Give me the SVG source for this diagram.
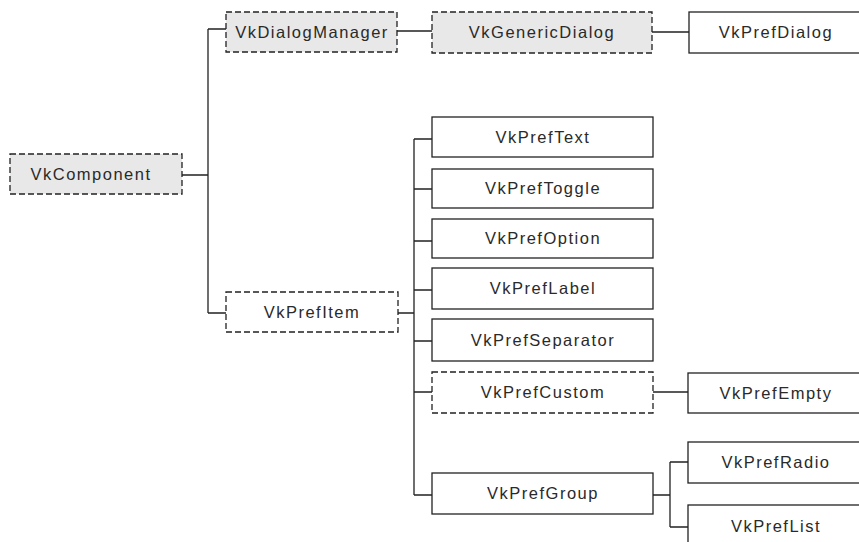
<svg xmlns="http://www.w3.org/2000/svg" width="859" height="542" viewBox="0 0 859 542">
<style>
.box{fill:#ffffff;stroke:#222;stroke-width:1.3}
.abs{fill:#e8e8e8}
.dash{stroke-dasharray:6,3}
.lbl{font-family:"Liberation Sans",Arial,sans-serif;font-size:16.5px;fill:#2a2a2a;text-anchor:middle;letter-spacing:1.5px}
.con{fill:none;stroke:#222;stroke-width:1.3}
</style>
<rect width="859" height="542" fill="#ffffff"/>
<g id="connectors">
<path class="con" d="M182,175H208M208,29V313M208,29H226M208,313H226"/>
<path class="con" d="M397,31H432M652,32H689"/>
<path class="con" d="M398,313H414M414,139V495M414,139H432M414,189H432M414,241H432M414,290H432M414,341H432M414,392H432M414,495H432"/>
<path class="con" d="M653,392H688"/>
<path class="con" d="M653,495H670M670,462V527M670,462H688M670,527H688"/>
</g>
<g id="VkComponent"><rect class="box abs dash" x="10" y="154" width="172" height="40"/><text class="lbl" x="91" y="180">VkComponent</text></g>
<g id="VkDialogManager"><rect class="box abs dash" x="226" y="12" width="171" height="40"/><text class="lbl" x="312" y="38">VkDialogManager</text></g>
<g id="VkGenericDialog"><rect class="box abs dash" x="432" y="12" width="220" height="41"/><text class="lbl" x="542" y="38">VkGenericDialog</text></g>
<g id="VkPrefDialog"><rect class="box" x="689" y="12" width="175" height="41"/><text class="lbl" x="776" y="38">VkPrefDialog</text></g>
<g id="VkPrefItem"><rect class="box dash" x="226" y="292" width="172" height="40"/><text class="lbl" x="312" y="318">VkPrefItem</text></g>
<g id="VkPrefText"><rect class="box" x="432" y="117" width="221" height="40"/><text class="lbl" x="543" y="143">VkPrefText</text></g>
<g id="VkPrefToggle"><rect class="box" x="432" y="169" width="221" height="39"/><text class="lbl" x="543" y="194">VkPrefToggle</text></g>
<g id="VkPrefOption"><rect class="box" x="432" y="219" width="221" height="39"/><text class="lbl" x="543" y="244">VkPrefOption</text></g>
<g id="VkPrefLabel"><rect class="box" x="432" y="268" width="221" height="41"/><text class="lbl" x="543" y="294">VkPrefLabel</text></g>
<g id="VkPrefSeparator"><rect class="box" x="432" y="319" width="221" height="42"/><text class="lbl" x="543" y="346">VkPrefSeparator</text></g>
<g id="VkPrefCustom"><rect class="box dash" x="432" y="372" width="221" height="41"/><text class="lbl" x="543" y="398">VkPrefCustom</text></g>
<g id="VkPrefGroup"><rect class="box" x="432" y="473" width="221" height="41"/><text class="lbl" x="543" y="499">VkPrefGroup</text></g>
<g id="VkPrefEmpty"><rect class="box" x="688" y="373" width="176" height="40"/><text class="lbl" x="776" y="399">VkPrefEmpty</text></g>
<g id="VkPrefRadio"><rect class="box" x="688" y="442" width="176" height="41"/><text class="lbl" x="776" y="468">VkPrefRadio</text></g>
<g id="VkPrefList"><rect class="box" x="688" y="505" width="176" height="45"/><text class="lbl" x="776" y="532">VkPrefList</text></g>
</svg>
